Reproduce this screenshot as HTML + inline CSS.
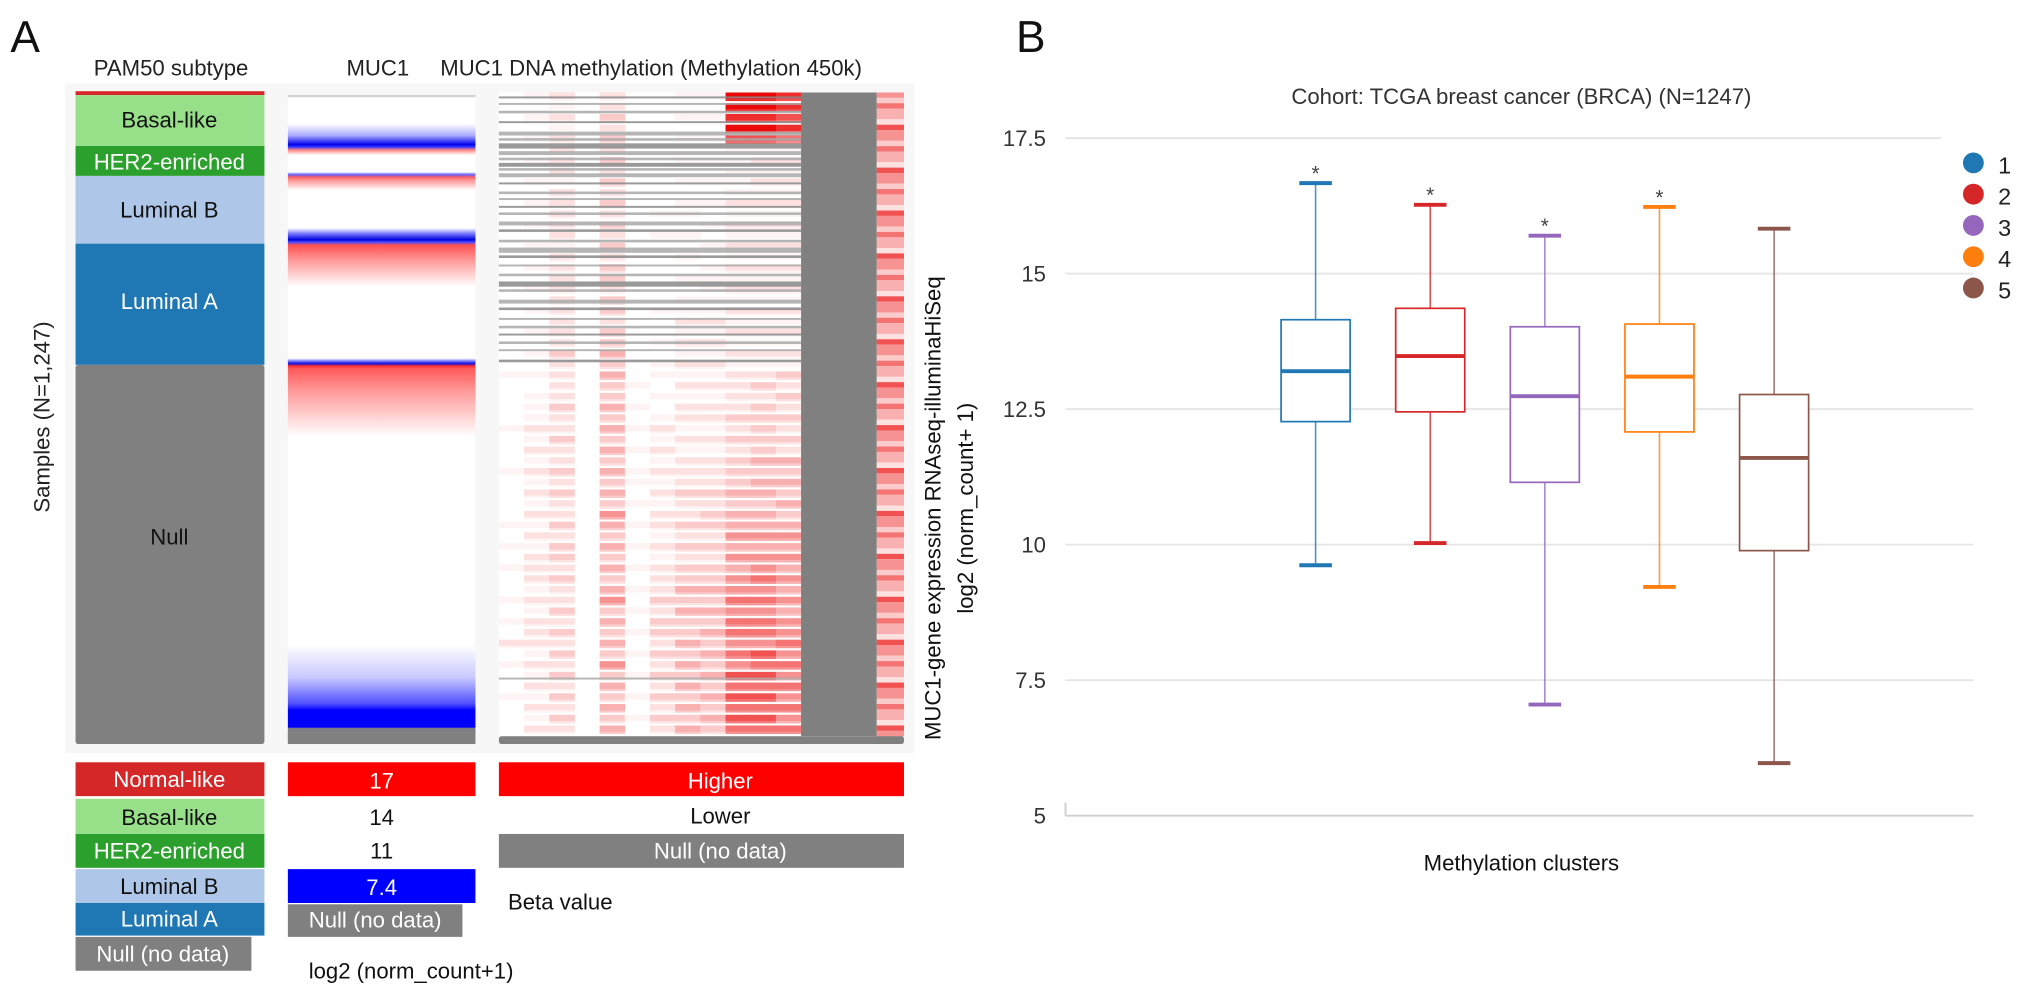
<!DOCTYPE html>
<html><head><meta charset="utf-8"><style>
html,body{margin:0;padding:0;background:#fff;}
svg{display:block;font-family:"Liberation Sans",sans-serif;}
</style></head><body>
<svg id="fig" width="2032" height="989" viewBox="0 0 1560 759" preserveAspectRatio="none" xmlns="http://www.w3.org/2000/svg">
<defs>
<linearGradient id="mucGrad" gradientUnits="userSpaceOnUse" x1="0" y1="73" x2="0" y2="571"></linearGradient>
</defs>
<rect x="0" y="0" width="1560" height="759" fill="#fff"/>
<text x="8" y="40" font-size="34" fill="#111">A</text>
<text x="780" y="40" font-size="34" fill="#111">B</text>

<text x="72" y="58" font-size="17" fill="#222">PAM50 subtype</text>
<text x="266" y="58" font-size="17" fill="#222">MUC1</text>
<text x="338" y="58" font-size="17" fill="#222">MUC1 DNA methylation (Methylation 450k)</text>
<text transform="translate(38,320) rotate(-90)" text-anchor="middle" font-size="17" fill="#222">Samples (N=1,247)</text>

<rect x="50" y="64" width="652" height="514" fill="#f7f7f7"/>

<g>
<rect x="58" y="70" width="145" height="3" fill="#d62728"/>
<rect x="58" y="73" width="145" height="39" fill="#98df8a"/>
<rect x="58" y="112" width="145" height="23" fill="#2ca02c"/>
<rect x="58" y="135" width="145" height="52" fill="#aec7e8"/>
<rect x="58" y="187" width="145" height="93" fill="#1f77b4"/>
<rect x="58" y="280" width="145" height="291" rx="2" fill="#808080"/>
<text x="130" y="98" text-anchor="middle" font-size="17" fill="#111">Basal-like</text>
<text x="130" y="130" text-anchor="middle" font-size="17" fill="#fff">HER2-enriched</text>
<text x="130" y="167" text-anchor="middle" font-size="17" fill="#111">Luminal B</text>
<text x="130" y="237" text-anchor="middle" font-size="17" fill="#fff">Luminal A</text>
<text x="130" y="418" text-anchor="middle" font-size="17" fill="#111">Null</text>
</g>

<g>
<rect x="221" y="73" width="144" height="498" fill="url(#mucGrad)"/>
<rect x="221" y="559" width="144" height="12" rx="2" fill="#808080"/>
</g>

<g id="meth"></g>

<g>
<rect x="58" y="585" width="145" height="26" fill="#d62728"/>
<rect x="58" y="613" width="145" height="27" fill="#98df8a"/>
<rect x="58" y="640" width="145" height="26" fill="#2ca02c"/>
<rect x="58" y="667" width="145" height="26" fill="#aec7e8"/>
<rect x="58" y="693" width="145" height="25" fill="#1f77b4"/>
<rect x="58" y="719" width="135" height="26" fill="#808080"/>
<text x="130" y="604" text-anchor="middle" font-size="17" fill="#fff">Normal-like</text>
<text x="130" y="633" text-anchor="middle" font-size="17" fill="#111">Basal-like</text>
<text x="130" y="659" text-anchor="middle" font-size="17" fill="#fff">HER2-enriched</text>
<text x="130" y="686" text-anchor="middle" font-size="17" fill="#111">Luminal B</text>
<text x="130" y="711" text-anchor="middle" font-size="17" fill="#fff">Luminal A</text>
<text x="125" y="738" text-anchor="middle" font-size="17" fill="#fff">Null (no data)</text>
</g>
<g>
<rect x="221" y="585" width="144" height="26" fill="#ff0000"/>
<rect x="221" y="613" width="144" height="52" fill="#fff"/>
<rect x="221" y="667" width="144" height="26" fill="#0000ff"/>
<rect x="221" y="694" width="134" height="25" fill="#808080"/>
<text x="293" y="605" text-anchor="middle" font-size="17" fill="#fff">17</text>
<text x="293" y="633" text-anchor="middle" font-size="17" fill="#111">14</text>
<text x="293" y="659" text-anchor="middle" font-size="17" fill="#111">11</text>
<text x="293" y="687" text-anchor="middle" font-size="17" fill="#fff">7.4</text>
<text x="288" y="712" text-anchor="middle" font-size="17" fill="#fff">Null (no data)</text>
<text x="237" y="751" font-size="17" fill="#111">log2 (norm_count+1)</text>
</g>
<g>
<rect x="383" y="585" width="311" height="26" fill="#ff0000"/>
<rect x="383" y="613" width="311" height="26" fill="#fff"/>
<rect x="383" y="640" width="311" height="26" fill="#808080"/>
<text x="553" y="605" text-anchor="middle" font-size="17" fill="#fff">Higher</text>
<text x="553" y="632" text-anchor="middle" font-size="17" fill="#111">Lower</text>
<text x="553" y="659" text-anchor="middle" font-size="17" fill="#fff">Null (no data)</text>
<rect x="383" y="668" width="143" height="68" fill="#fff"/>
<text x="390" y="698" font-size="17" fill="#111">Beta value</text>
</g>

<text x="1168" y="80" text-anchor="middle" font-size="17" fill="#333">Cohort: TCGA breast cancer (BRCA) (N=1247)</text>
<text transform="translate(722,390) rotate(-90)" text-anchor="middle" font-size="17" fill="#111">MUC1-gene expression RNAseq-illuminaHiSeq</text>
<text transform="translate(747,390) rotate(-90)" text-anchor="middle" font-size="17" fill="#111">log2 (norm_count+ 1)</text>
<text x="1168" y="668" text-anchor="middle" font-size="17" fill="#111">Methylation clusters</text>
<g id="grid"></g>
<g id="yticks"></g>
<g id="boxes"></g>
<g id="legend"></g>
</svg>
<script>
const clusters = ["1","2","3","4","5"];
const colors = ["#1f77b4","#d62728","#9467bd","#ff7f0e","#8c564b"];
const maxVals = [16.67, 16.27, 15.7, 16.23, 15.83];
const q3Vals = [14.15, 14.36, 14.02, 14.07, 12.77];
const medVals = [13.2, 13.48, 12.74, 13.1, 11.6];
const q1Vals = [12.27, 12.45, 11.15, 12.08, 9.89];
const minVals = [9.62, 10.03, 7.05, 9.22, 5.97];
const significant = [true, true, true, true, false];
const yTicks = [5, 7.5, 10, 12.5, 15, 17.5];
const yTickLabels = ["5","7.5","10","12.5","15","17.5"];

const methCol0 = "000000000000000000000000001000010001000010101001010201001000";
const methCol1 = "101010101010101010101010101011121212121212122212122212121212";
const methCol2 = "212122221222221222222222322223223223232232332322323232323232";
const methCol3 = "000000000000000000000000000000000000000000000000000000000000";
const methCol4 = "223232323232323233233233434334343434343543434345343435343434";
const methCol5 = "000000000000000000000000000101010101101010101010101010101010";
const methCol6 = "000000000001010000001001011010121212121221212223233232323232";
const methCol7 = "101010101011010101011212121212212122232232323343433434343434";
const methCol8 = "101010101010101011111212121212212122232332323343434343434343";
const methCol9 = "998971111121212121212121212222323233343445454556566565767676";
const methCol10 = "998971212121212121212121212323333343443445455656566576767676";
const methCol11 = "887861212121212121212121213232323243434345454545455656565656";
const methCol12 = "453645364536453645364536453645364536453645364536453645364536";
const methCols = [methCol0,methCol1,methCol2,methCol3,methCol4,methCol5,methCol6,methCol7,methCol8,methCol9,methCol10,methCol11];
const nullRowY = [74,79,85,93,101,106,110,116,121,125,129,133,140,147,152,158,163,170,176,184,190,196,203,210,216,222,230,236,244,250,256,262,268,276,520];
const nullRowH = [1.5,1.5,2,1.5,3,2,4,3,2,3,2,3,1.5,2,1.5,1.5,2,3,2,2,4,2,1.5,2,4,2,3,2,1.5,2,1.5,2,1.5,2,1.5];
const mucStopY = [73,74,75,95,104,111,113,115,119,132,134,136,138,146,175,179,184,186,188,200,220,275,277,279,281,283,300,335,495,520,540,545,558,559];
const mucStopC = ["#cccccc","#cccccc","#ffffff","#ffffff","#aaaaff","#0000ee","#4040ff","#ff8080","#ffffff","#ffffff","#6060ff","#ff6060","#ff9090","#ffffff","#ffffff","#8080ff","#0000dd","#5050ff","#ff5050","#ff9a9a","#ffffff","#ffffff","#8080ff","#1010dd","#ff3030","#ff5a5a","#ff9999","#ffffff","#ffffff","#c8c8ff","#5050ff","#0000ff","#0000ff","#808080"];

const NS = "http://www.w3.org/2000/svg";
function mk(tag, attrs, parent){const e=document.createElementNS(NS,tag);for(const k in attrs)e.setAttribute(k,attrs[k]);parent.appendChild(e);return e;}

const grad = document.getElementById('mucGrad');
for(let i=0;i<mucStopY.length;i++){
  mk('stop',{offset:((mucStopY[i]-73)/498).toFixed(4),'stop-color':mucStopC[i]},grad);
}

const meth = document.getElementById('meth');
const mTop=71, mBot=565, bins=60, binH=(mBot-mTop)/bins, colW=(615-383)/12;
function redLevel(L){const f=Math.pow(Math.min(L/9,1),1.4);const g=Math.round(255*(1-f*0.97));const r=Math.round(255-f*20);return `rgb(${r},${g},${g})`;}
mk('rect',{x:383,y:mTop,width:311,height:mBot-mTop,fill:'#fff'},meth);
methCols.forEach((col,ci)=>{
  for(let b=0;b<bins;b++){
    const L=+(col[b]||0); if(!L)continue;
    const c=mk('rect',{x:(383+ci*colW).toFixed(2),y:(mTop+b*binH).toFixed(2),width:(colW+0.3).toFixed(2),height:(binH*0.6).toFixed(2),fill:redLevel(L)},meth);
    
    
    if(L>1){mk('rect',{x:(383+ci*colW).toFixed(2),y:(mTop+b*binH+binH*0.6).toFixed(2),width:(colW+0.3).toFixed(2),height:(binH*0.2).toFixed(2),fill:redLevel(L-1)},meth);}
  }
});
for(let b=0;b<bins;b++){
  const L=+(methCol12[b]||0);
  mk('rect',{x:673,y:(mTop+b*binH).toFixed(2),width:21,height:(binH/2).toFixed(2),fill:redLevel(L+1)},meth);
  mk('rect',{x:673,y:(mTop+b*binH+binH/2).toFixed(2),width:21,height:(binH/2+0.2).toFixed(2),fill:redLevel(Math.max(L-1,2))},meth);
}
nullRowY.forEach((y,i)=>{
  const r=mk('rect',{x:383,y:y,width:232,height:nullRowH[i],fill:(i%3===0?'#888':'#a8a8a8'),opacity:0.85},meth);
  
  
});
const gcol=mk('rect',{x:615,y:mTop,width:58,height:mBot-mTop,fill:'#808080'},meth);


mk('rect',{x:383,y:565,width:311,height:6,rx:2,fill:'#808080'},meth);

const y0=106, pxPerUnit=41.6;
function yScale(v){return y0+(17.5-v)*pxPerUnit;}
const x0=1010, step=88;
function xScale(i){return x0+i*step;}
const grid=document.getElementById('grid'), yt=document.getElementById('yticks');
yTicks.forEach((t,i)=>{
  const y=yScale(t);
  const ln=mk('line',{x1:818,x2:(t===17.5?1490:1515),y1:y,y2:y,stroke:(t===5?'#d0d0d0':'#e6e6e6'),'stroke-width':1.5},grid);
  
  
  const tx=mk('text',{x:803,y:y+6,'text-anchor':'end','font-size':17,fill:'#333'},yt);
  tx.textContent=yTickLabels[i];
  
  
});
mk('line',{x1:818,x2:818,y1:yScale(5)-10,y2:yScale(5),stroke:'#d0d0d0','stroke-width':1.5},grid);

const boxes=document.getElementById('boxes'), bw=53, cw=25;
clusters.forEach((c,i)=>{
  const g=mk('g',{},boxes);
  
  
  const cx=xScale(i), col=colors[i];
  mk('line',{x1:cx,x2:cx,y1:yScale(maxVals[i]),y2:yScale(q3Vals[i]),stroke:col,'stroke-width':1.2,opacity:0.8},g);
  mk('line',{x1:cx,x2:cx,y1:yScale(q1Vals[i]),y2:yScale(minVals[i]),stroke:col,'stroke-width':1.2,opacity:0.8},g);
  mk('rect',{x:cx-bw/2,y:yScale(q3Vals[i]),width:bw,height:yScale(q1Vals[i])-yScale(q3Vals[i]),fill:'#fff',stroke:col,'stroke-width':1.3},g);
  mk('line',{x1:cx-bw/2,x2:cx+bw/2,y1:yScale(medVals[i]),y2:yScale(medVals[i]),stroke:col,'stroke-width':3},g);
  mk('line',{x1:cx-cw/2,x2:cx+cw/2,y1:yScale(maxVals[i]),y2:yScale(maxVals[i]),stroke:col,'stroke-width':3},g);
  mk('line',{x1:cx-cw/2,x2:cx+cw/2,y1:yScale(minVals[i]),y2:yScale(minVals[i]),stroke:col,'stroke-width':3},g);
  if(significant[i]){
    const s=mk('text',{x:cx,y:yScale(maxVals[i])-2,'text-anchor':'middle','font-size':16,fill:'#444'},g);
    s.textContent='*';
    
    
  }
});

const leg=document.getElementById('legend');
clusters.forEach((c,i)=>{
  const y=125+i*24;
  const g=mk('g',{},leg);
  
  
  mk('circle',{cx:1515,cy:y,r:8,fill:colors[i]},g);
  const t=mk('text',{x:1534,y:y+8,'font-size':18,fill:'#222'},g);
  t.textContent=c;
});
</script>
</body></html>
